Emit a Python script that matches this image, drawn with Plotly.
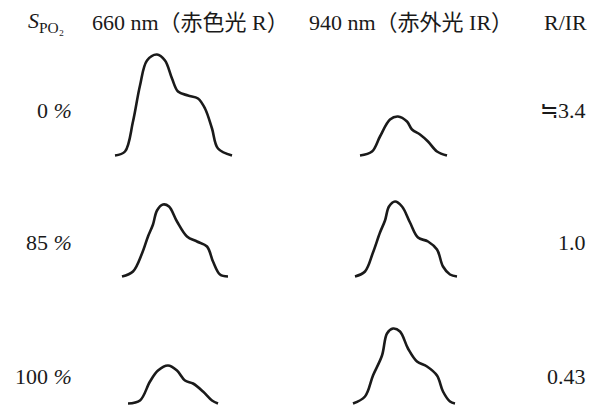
import plotly.graph_objects as go

# ---- data ----
spo2_labels = ["0 <i>%</i>", "85 <i>%</i>", "100 <i>%</i>"]
ratio_labels = ["≒3.4", "1.0", "0.43"]
headers = ["<i>S</i><sub>PO₂</sub>", "660 nm（赤色光 R）", "940 nm（赤外光 IR）", "R/IR"]

# pulse waveforms: x = time samples (px within cell), y = height above baseline
red0_x = [5, 15, 23, 30, 37, 47, 55, 62, 68, 78, 88, 95, 102, 108, 122]
red0_y = [0, 4, 34, 70, 95, 101, 95, 77, 64, 60, 57, 47, 27, 7, 0]
ir0_x = [10, 22, 30, 40, 48, 57, 62, 70, 78, 87, 97]
ir0_y = [0, 4, 19, 36, 39, 34, 26, 21, 14, 4, 0]

red85_x = [12, 23, 32, 38, 43, 47, 53, 59, 67, 77, 87, 97, 103, 110, 118]
red85_y = [0, 5, 23, 40, 52, 66, 72, 70, 55, 40, 35, 30, 15, 2, 0]
ir85_x = [5, 15, 23, 30, 35, 39, 45, 52, 60, 68, 78, 87, 93, 100, 107]
ir85_y = [0, 5, 24, 44, 56, 70, 75, 70, 54, 39, 35, 27, 10, 2, 0]

red100_x = [18, 30, 40, 48, 58, 67, 75, 83, 93, 102, 108]
red100_y = [0, 3, 22, 33, 38, 33, 23, 20, 12, 3, 0]
ir100_x = [3, 15, 23, 32, 37, 43, 50, 58, 67, 77, 87, 93, 100, 105]
ir100_y = [0, 7, 28, 48, 70, 75, 72, 55, 42, 37, 28, 12, 2, 0]

waves = [
    [(red0_x, red0_y), (ir0_x, ir0_y)],
    [(red85_x, red85_y), (ir85_x, ir85_y)],
    [(red100_x, red100_y), (ir100_x, ir100_y)],
]

# ---- layout ----
W, H = 605, 407
col_left = [110, 350]
cell_w = 130
row_base = [157, 278, 405]
cell_h = 110

fig = go.Figure()
layout = dict(
    width=W, height=H, margin=dict(l=0, r=0, t=0, b=0),
    paper_bgcolor="white", plot_bgcolor="white", showlegend=False,
)
k = 0
for r in range(3):
    for c in range(2):
        k += 1
        xa = "x" if k == 1 else f"x{k}"
        ya = "y" if k == 1 else f"y{k}"
        xs, ys = waves[r][c]
        fig.add_trace(go.Scatter(
            x=xs, y=ys, mode="lines", xaxis=xa, yaxis=ya,
            line=dict(color="#1a1a1a", width=2.6, shape="spline", smoothing=1.0),
            hoverinfo="skip", cliponaxis=False,
        ))
        x0 = col_left[c] / W
        x1 = (col_left[c] + cell_w) / W
        y0 = 1 - row_base[r] / H
        y1 = 1 - (row_base[r] - cell_h) / H
        axx = dict(domain=[x0, x1], range=[0, cell_w], visible=False, fixedrange=True)
        axy = dict(domain=[y0, y1], range=[-1.5, cell_h - 1.5], visible=False, fixedrange=True)
        layout["xaxis" if k == 1 else f"xaxis{k}"] = dict(axx, anchor=ya)
        layout["yaxis" if k == 1 else f"yaxis{k}"] = dict(axy, anchor=xa)
fig.update_layout(**layout)

font = dict(family="Liberation Serif, Noto Sans CJK JP, serif", size=22, color="#1a1a1a")
header_x = [46, 190, 411, 565]
for hx, txt in zip(header_x, headers):
    fig.add_annotation(x=hx / W, y=1 - 22 / H, xref="paper", yref="paper",
                       text=txt, showarrow=False, font=font, xanchor="center", yanchor="middle")

label_y = [110, 242, 376]
for ly, s, q in zip(label_y, spo2_labels, ratio_labels):
    fig.add_annotation(x=74 / W, y=1 - ly / H, xref="paper", yref="paper",
                       text=s, showarrow=False, font=font, xanchor="right", yanchor="middle")
    fig.add_annotation(x=588 / W, y=1 - ly / H, xref="paper", yref="paper",
                       text=q, showarrow=False, font=font, xanchor="right", yanchor="middle")

fig.write_html("out.html", config={"displayModeBar": False, "staticPlot": True},
               post_script="document.body.style.margin='0';document.body.style.overflow='hidden';")
